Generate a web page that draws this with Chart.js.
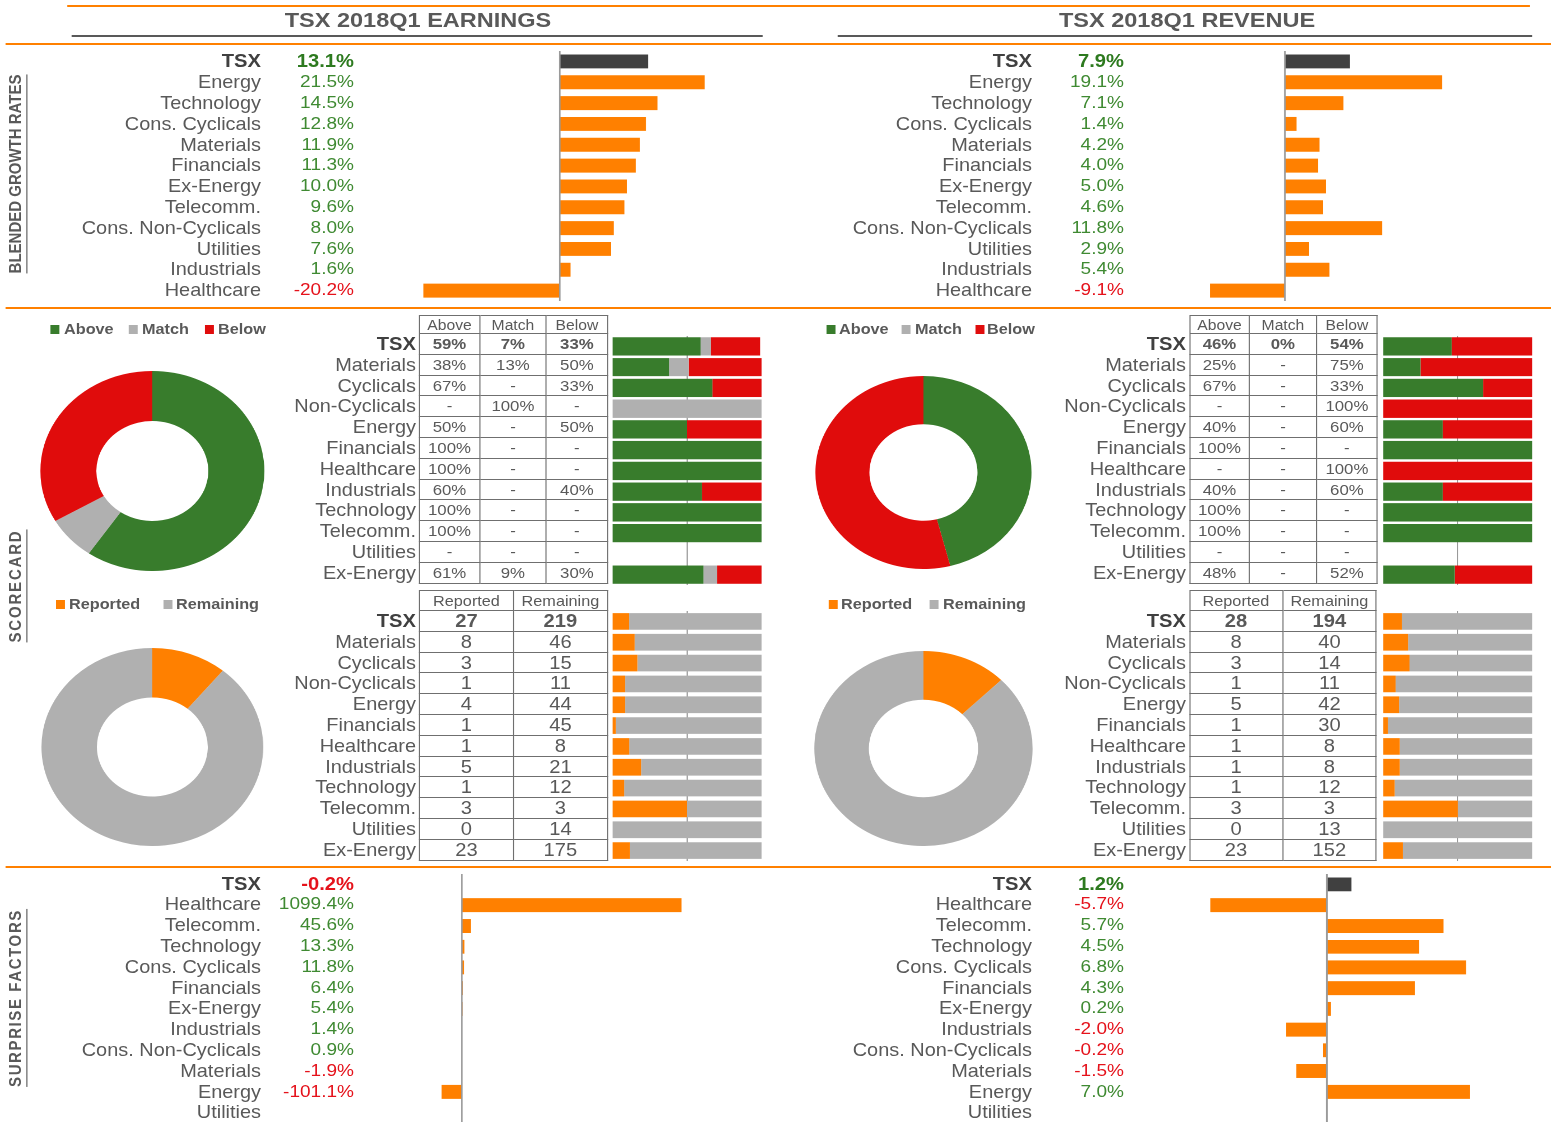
<!DOCTYPE html>
<html>
<head>
<meta charset="utf-8">
<title>TSX 2018Q1 Earnings Scorecard</title>
<script src="https://cdn.jsdelivr.net/npm/chart.js@4"></script>
<style>
    html, body { margin: 0; padding: 0; background: #fff; overflow: hidden; }
    /* the source picture is stretched sideways, so the whole board is laid out narrow and scaled */
    #stage { position: absolute; left: 0; top: 0; width: 1385px; height: 1122px;
             transform: scaleX(1.12); transform-origin: 0 0;
             font-family: "Liberation Sans", Arial, sans-serif; color: #595959; }
    #stage div, #stage canvas { position: absolute; box-sizing: border-box; }
</style>
</head>
<body>
<div id="stage"></div>
<script>
// ---- data ----
const growthCats = ['TSX', 'Energy', 'Technology', 'Cons. Cyclicals', 'Materials', 'Financials',
    'Ex-Energy', 'Telecomm.', 'Cons. Non-Cyclicals', 'Utilities', 'Industrials', 'Healthcare'];
const earnGrowth = [13.1, 21.5, 14.5, 12.8, 11.9, 11.3, 10.0, 9.6, 8.0, 7.6, 1.6, -20.2];
const revGrowth = [7.9, 19.1, 7.1, 1.4, 4.2, 4.0, 5.0, 4.6, 11.8, 2.9, 5.4, -9.1];

const scoreCats = ['TSX', 'Materials', 'Cyclicals', 'Non-Cyclicals', 'Energy', 'Financials',
    'Healthcare', 'Industrials', 'Technology', 'Telecomm.', 'Utilities', 'Ex-Energy'];
const scoreHeads = ['Above', 'Match', 'Below'];
const earnAbove = [59, 38, 67, null, 50, 100, 100, 60, 100, 100, null, 61];
const earnMatch = [7, 13, null, 100, null, null, null, null, null, null, null, 9];
const earnBelow = [33, 50, 33, null, 50, null, null, 40, null, null, null, 30];
const revAbove = [46, 25, 67, null, 40, 100, null, 40, 100, 100, null, 48];
const revMatch = [0, null, null, null, null, null, null, null, null, null, null, null];
const revBelow = [54, 75, 33, 100, 60, null, 100, 60, null, null, null, 52];

const countHeads = ['Reported', 'Remaining'];
const earnReported = [27, 8, 3, 1, 4, 1, 1, 5, 1, 3, 0, 23];
const earnRemaining = [219, 46, 15, 11, 44, 45, 8, 21, 12, 3, 14, 175];
const revReported = [28, 8, 3, 1, 5, 1, 1, 1, 1, 3, 0, 23];
const revRemaining = [194, 40, 14, 11, 42, 30, 8, 8, 12, 3, 13, 152];

const surpriseCats = ['TSX', 'Healthcare', 'Telecomm.', 'Technology', 'Cons. Cyclicals', 'Financials',
    'Ex-Energy', 'Industrials', 'Cons. Non-Cyclicals', 'Materials', 'Energy', 'Utilities'];
const earnSurprise = [-0.2, 1099.4, 45.6, 13.3, 11.8, 6.4, 5.4, 1.4, 0.9, -1.9, -101.1, null];
const revSurprise = [1.2, -5.7, 5.7, 4.5, 6.8, 4.3, 0.2, -2.0, -0.2, -1.5, 7.0, null];

// ---- look ----
const SX = 1.12;          // sideways stretch of the picture
const ROW = 20.8;         // row pitch
const ORANGE = '#FF8000', DARK = '#404040', GREEN = '#387C2C', RED = '#E00C0C', GREY = '#B0B0B0';
const GREEN_TXT = '#3F8A32', GREEN_BOLD = '#2D7A1F', RED_TXT = '#E5121B', LINE = '#6f6f6f';

const stage = document.getElementById('stage');

// x and w are given in picture pixels and converted to the unstretched layout
function put(tag, x, y, w, h, css) {
    const el = document.createElement(tag);
    el.style.left = (x / SX) + 'px';
    el.style.top = y + 'px';
    if (w != null) el.style.width = (w / SX) + 'px';
    if (h != null) el.style.height = h + 'px';
    if (css) el.style.cssText += css;
    stage.appendChild(el);
    return el;
}
function text(str, x, y, w, h, css) {
    const el = put('div', x, y, w, h, 'line-height:' + h + 'px;white-space:nowrap;' + (css || ''));
    el.textContent = str;
    return el;
}
function makeCanvas(x, y, w, h) {
    const c = put('canvas', x, y, w, h);
    c.width = Math.round(w / SX);
    c.height = Math.round(h);
    return c;
}

// vertical reference line (zero axis / 50% mark)
Chart.register({
    id: 'refLine',
    beforeDatasetsDraw(chart, args, o) { if (o.under) drawRef(chart, o); },
    afterDatasetsDraw(chart, args, o) { if (!o.under) drawRef(chart, o); }
});
function drawRef(chart, o) {
    if (o.value == null) return;
    const x = chart.scales.x.getPixelForValue(o.value);
    const ctx = chart.ctx;
    ctx.save();
    ctx.strokeStyle = o.color;
    ctx.lineWidth = o.width;
    ctx.beginPath();
    ctx.moveTo(x, chart.chartArea.top);
    ctx.lineTo(x, chart.chartArea.bottom);
    ctx.stroke();
    ctx.restore();
}

function hbar(canvas, labels, datasets, xmin, xmax, stacked, ref) {
    return new Chart(canvas, {
        type: 'bar',
        data: { labels: labels, datasets: datasets },
        options: {
            indexAxis: 'y', responsive: false, animation: false, devicePixelRatio: 2,
            layout: { padding: 0 },
            scales: {
                x: { display: false, min: xmin, max: xmax, stacked: stacked },
                y: { display: false, stacked: stacked }
            },
            plugins: { legend: { display: false }, tooltip: { enabled: false }, refLine: ref }
        }
    });
}

function donut(cx, cy, r, labels, values, colors) {
    const c = makeCanvas(cx - r * SX, cy - r, 2 * r * SX, 2 * r);
    new Chart(c, {
        type: 'doughnut',
        data: { labels: labels, datasets: [{ data: values, backgroundColor: colors, borderWidth: 0, hoverOffset: 0 }] },
        options: {
            responsive: false, animation: false, devicePixelRatio: 2, cutout: '50%',
            plugins: { legend: { display: false }, tooltip: { enabled: false } }
        }
    });
}

// label + value columns with a diverging bar chart
function barBlock(cats, vals, o) {
    cats.forEach((c, i) => {
        const y = o.y0 + i * ROW;
        text(c, o.labelR - 300, y, 300, ROW, 'text-align:right;font-size:17.8px;' +
            (i === 0 ? 'font-weight:bold;font-size:18px;color:#404040;' : ''));
        const v = vals[i];
        if (v == null) return;
        const col = v < 0 ? RED_TXT : (i === 0 ? GREEN_BOLD : GREEN_TXT);
        text(v.toFixed(1) + '%', o.valueR - 120, y, 120, ROW, 'text-align:right;font-size:17px;color:' + col + ';' +
            (i === 0 ? 'font-weight:bold;font-size:18px;' : ''));
    });
    const cv = makeCanvas(o.chartX, o.y0, o.chartW, cats.length * ROW);
    hbar(cv, cats, [{
        data: vals,
        backgroundColor: vals.map((v, i) => i === 0 ? DARK : ORANGE),
        borderWidth: 0, barPercentage: 0.67, categoryPercentage: 1
    }], o.min, o.max, false, { value: 0, color: '#9a9a9a', width: 1.5, under: false });
}

function cell(str, x, y, w, h, css) {
    return text(str, x, y, w, h, 'text-align:center;border-right:1px solid ' + LINE +
        ';border-bottom:1px solid ' + LINE + ';' + css);
}
function grid(cols, heads, headY, headH, y0, columns, fmt, headCss, cellCss) {
    heads.forEach((hd, j) => cell(hd, cols[j], headY, cols[j + 1] - cols[j], headH,
        headCss + 'border-top:1px solid ' + LINE + ';' + (j === 0 ? 'border-left:1px solid ' + LINE + ';' : '')));
    for (let i = 0; i < columns[0].length; i++) {
        columns.forEach((arr, j) => cell(fmt(arr[i]), cols[j], y0 + i * ROW, cols[j + 1] - cols[j], ROW,
            cellCss + (j === 0 ? 'border-left:1px solid ' + LINE + ';' : '') + (i === 0 ? 'font-weight:bold;' : '')));
    }
}
function rowLabels(cats, rightX, y0) {
    cats.forEach((c, i) => text(c, rightX - 200, y0 + i * ROW, 200, ROW, 'text-align:right;font-size:17.8px;' +
        (i === 0 ? 'font-weight:bold;font-size:18px;color:#404040;' : '')));
}
function stackBars(x, y, w, cats, sets, thick) {
    const cv = makeCanvas(x, y, w, cats.length * ROW);
    hbar(cv, cats, sets.map(s => ({
        data: s[0].map(v => v == null ? 0 : v), backgroundColor: s[1],
        borderWidth: 0, barPercentage: thick, categoryPercentage: 1
    })), 0, 100, true, { value: 50, color: '#9a9a9a', width: 1, under: true });
}
function legend(items, y) {
    items.forEach(it => {
        put('div', it[0], y - 4.5, 9, 9, 'background:' + it[2] + ';');
        text(it[3], it[1], y - 10, 120, 20, 'font-weight:bold;font-size:14.5px;');
    });
}
function vlabel(str, cy, spacing) {
    const el = document.createElement('div');
    el.textContent = str;
    el.style.cssText = 'left:' + (17 / SX) + 'px;top:' + cy + 'px;transform:translate(-50%,-50%) rotate(-90deg);' +
        'font-weight:bold;font-size:15px;letter-spacing:' + spacing + 'px;line-height:16px;padding-bottom:2px;' +
        'border-bottom:1.5px solid #595959;white-space:nowrap;';
    stage.appendChild(el);
}

// ---- frame ----
put('div', 67, 4.7, 1463, 2.6, 'background:' + ORANGE + ';');
text('TSX 2018Q1 EARNINGS', 218, 7.5, 400, 24, 'text-align:center;font-weight:bold;font-size:21px;');
text('TSX 2018Q1 REVENUE', 987, 7.5, 400, 24, 'text-align:center;font-weight:bold;font-size:21px;');
put('div', 72, 34.5, 691, 2.5, 'background:#595959;');
put('div', 838, 34.5, 694, 2.5, 'background:#595959;');
[43, 307, 866].forEach(y => put('div', 6, y, 1545, 1.5, 'background:' + ORANGE + ';'));
vlabel('BLENDED GROWTH RATES', 174, 0);
vlabel('SCORECARD', 586, 1.8);
vlabel('SURPRISE FACTORS', 998, 1.6);

// ---- blended growth rates ----
barBlock(growthCats, earnGrowth, { y0: 51.3, labelR: 261, valueR: 354, chartX: 400, chartW: 380, min: -23.70, max: 32.59 });
barBlock(growthCats, revGrowth, { y0: 51.3, labelR: 1032, valueR: 1124, chartX: 1150, chartW: 395, min: -16.36, max: 31.52 });

// ---- scorecard: beats ----
const pctFmt = v => v == null ? '-' : v + '%';
const scoreColors = [GREEN, GREY, RED];
legend([[50, 64, GREEN, 'Above'], [129, 142, GREY, 'Match'], [205, 218, RED, 'Below']], 329);
legend([[827, 839, GREEN, 'Above'], [902, 915, GREY, 'Match'], [975, 987, RED, 'Below']], 329);
donut(152, 471, 100, scoreHeads, [earnAbove[0], earnMatch[0], earnBelow[0]], scoreColors);
donut(923, 472, 96.5, scoreHeads, [revAbove[0], revMatch[0], revBelow[0]], scoreColors);
rowLabels(scoreCats, 416, 334);
rowLabels(scoreCats, 1186, 334);
grid([419, 480, 547, 608], scoreHeads, 315, 19, 334, [earnAbove, earnMatch, earnBelow], pctFmt,
    'font-size:14px;', 'font-size:15px;');
grid([1189, 1250, 1317, 1378], scoreHeads, 315, 19, 334, [revAbove, revMatch, revBelow], pctFmt,
    'font-size:14px;', 'font-size:15px;');
stackBars(613, 335.5, 149, scoreCats, [[earnAbove, GREEN], [earnMatch, GREY], [earnBelow, RED]], 0.88);
stackBars(1383, 335.5, 149, scoreCats, [[revAbove, GREEN], [revMatch, GREY], [revBelow, RED]], 0.88);

// ---- scorecard: reported count ----
const cntFmt = v => String(v);
const share = (rep, rem) => rep.map((r, i) => r / (r + rem[i]) * 100);
legend([[56, 69, ORANGE, 'Reported'], [163, 176, GREY, 'Remaining']], 604);
legend([[829, 841, ORANGE, 'Reported'], [930, 943, GREY, 'Remaining']], 604);
donut(152, 747, 99, countHeads, [earnReported[0], earnRemaining[0]], [ORANGE, GREY]);
donut(923, 748.5, 97.5, countHeads, [revReported[0], revRemaining[0]], [ORANGE, GREY]);
rowLabels(scoreCats, 416, 611);
rowLabels(scoreCats, 1186, 611);
grid([419, 514, 608], countHeads, 590, 21, 611, [earnReported, earnRemaining], cntFmt,
    'font-size:14.5px;', 'font-size:18px;');
grid([1189, 1283, 1377], countHeads, 590, 21, 611, [revReported, revRemaining], cntFmt,
    'font-size:14.5px;', 'font-size:18px;');
const earnShare = share(earnReported, earnRemaining);
const revShare = share(revReported, revRemaining);
stackBars(613, 611, 149, scoreCats, [[earnShare, ORANGE], [earnShare.map(v => 100 - v), GREY]], 0.8);
stackBars(1383, 611, 149, scoreCats, [[revShare, ORANGE], [revShare.map(v => 100 - v), GREY]], 0.8);

// ---- surprise factors ----
barBlock(surpriseCats, earnSurprise, { y0: 873.6, labelR: 261, valueR: 354, chartX: 400, chartW: 380, min: -310, max: 1590 });
barBlock(surpriseCats, revSurprise, { y0: 873.6, labelR: 1032, valueR: 1124, chartX: 1150, chartW: 395, min: -8.634, max: 10.634 });
</script>
</body>
</html>
